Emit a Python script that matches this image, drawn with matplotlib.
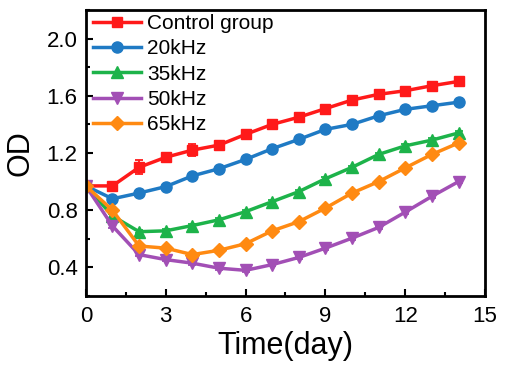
import matplotlib
matplotlib.use("Agg")
import matplotlib.pyplot as plt
from matplotlib.ticker import MultipleLocator

plt.rcParams['font.family'] = ['Liberation Sans', 'DejaVu Sans']

days = list(range(15))
control = [0.97, 0.97, 1.10, 1.17, 1.22, 1.255, 1.33, 1.40, 1.45, 1.51, 1.57, 1.61, 1.635, 1.67, 1.70]
control_err = [0.01, 0.02, 0.05, 0.03, 0.04, 0.015, 0.015, 0.015, 0.015, 0.015, 0.015, 0.015, 0.015, 0.015, 0.015]
khz20 = [0.97, 0.88, 0.92, 0.965, 1.04, 1.09, 1.155, 1.23, 1.295, 1.365, 1.40, 1.46, 1.505, 1.53, 1.555]
khz35 = [0.97, 0.76, 0.65, 0.656, 0.693, 0.733, 0.79, 0.86, 0.93, 1.02, 1.10, 1.19, 1.25, 1.29, 1.34]
khz50 = [0.97, 0.69, 0.49, 0.455, 0.43, 0.395, 0.38, 0.42, 0.47, 0.535, 0.605, 0.68, 0.787, 0.897, 1.00]
khz65 = [0.97, 0.80, 0.55, 0.535, 0.49, 0.52, 0.566, 0.656, 0.72, 0.815, 0.92, 1.00, 1.096, 1.19, 1.27]
small_err = [0.012] * 15

labels = ["Control group", "20kHz", "35kHz", "50kHz", "65kHz"]
series = [control, khz20, khz35, khz50, khz65]
errors = [control_err, small_err, small_err, small_err, small_err]
colors = ["#ff1a1a", "#1f7ac4", "#1db34a", "#a24fb5", "#ff8a12"]
markers = ["s", "o", "^", "v", "D"]
msizes = [7, 8, 8, 8, 7]

fig = plt.figure(figsize=(5.08, 3.66), dpi=100)
ax = fig.add_axes([0.169, 0.191, 0.786, 0.782])

for y, e, c, m, ms, lab in zip(series, errors, colors, markers, msizes, labels):
    ax.errorbar(days, y, yerr=e, color=c, marker=m, markersize=ms, lw=2.5,
                capsize=3, elinewidth=1.3, capthick=1.3, label=lab)

ax.set_xlim(0, 15)
ax.set_ylim(0.2, 2.2)
ax.xaxis.set_major_locator(MultipleLocator(3))
ax.xaxis.set_minor_locator(MultipleLocator(1.5))
ax.set_yticks([0.4, 0.8, 1.2, 1.6, 2.0])
ax.yaxis.set_minor_locator(MultipleLocator(0.2))
ax.tick_params(which='both', direction='in', width=1.5, labelsize=16)
ax.tick_params(which='major', length=5)
ax.tick_params(which='minor', length=3)
ax.tick_params(axis='y', pad=6)
ax.tick_params(axis='x', pad=7)
for s in ax.spines.values():
    s.set_linewidth(2)

ax.set_xlabel("Time(day)", fontsize=22, labelpad=3)
ax.set_ylabel("OD", fontsize=22, labelpad=8)

handles, labs = ax.get_legend_handles_labels()
handles = [h[0] for h in handles]
ax.legend(handles, labs, loc='upper left', frameon=False, fontsize=15,
          handlelength=2.3, handletextpad=0.3, labelspacing=0.3,
          borderaxespad=0, borderpad=0, bbox_to_anchor=(0.017, 0.985))

fig.savefig("out.png", dpi=100)
